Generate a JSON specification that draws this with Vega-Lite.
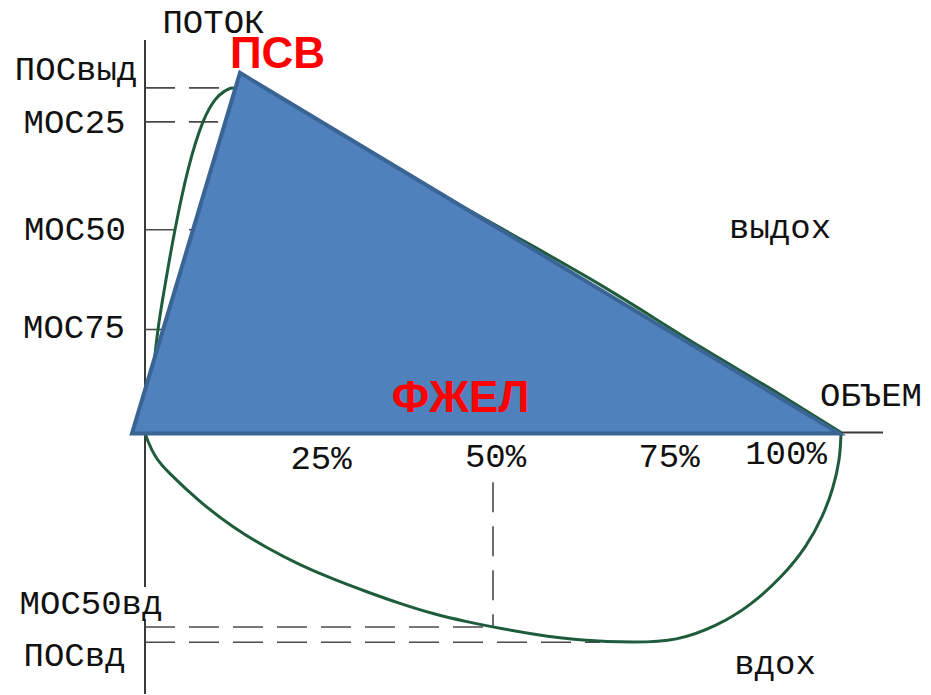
{
  "$schema": "https://vega.github.io/schema/vega-lite/v6.json",
  "width": 931,
  "height": 695,
  "padding": 0,
  "autosize": {"type": "fit", "contains": "padding"},
  "background": "white",
  "config": {"view": {"stroke": null}},
  "datasets": {
    "axes": [
      {"x": 0, "x2": 0, "y": 11.39, "y2": -4.49},
      {"x": 0, "x2": 0, "y": -5.42, "y2": -7.594},
      {"x": 0, "x2": 106.03, "y": 0, "y2": 0}
    ],
    "guides": [
      {"x": 0, "x2": 12.5, "y": 10.0, "y2": 10.0},
      {"x": 0, "x2": 10.5, "y": 9.014, "y2": 9.014},
      {"x": 0, "x2": 7.9, "y": 5.884, "y2": 5.884},
      {"x": 0, "x2": 4.31, "y": 2.986, "y2": 2.986},
      {"x": 0, "x2": 50, "y": -5.65, "y2": -5.65},
      {"x": 0, "x2": 65.4, "y": -6.09, "y2": -6.09},
      {"x": 50, "x2": 50, "y": -1.449, "y2": -5.65}
    ],
    "expir": [
      {"i": 0, "v": 0, "f": 0},
      {"i": 1, "v": 0.43, "f": 0.667},
      {"i": 2, "v": 1.01, "f": 1.536},
      {"i": 3, "v": 1.87, "f": 2.986},
      {"i": 4, "v": 3.02, "f": 4.435},
      {"i": 5, "v": 4.31, "f": 5.884},
      {"i": 6, "v": 6.18, "f": 7.623},
      {"i": 7, "v": 8.33, "f": 9.014},
      {"i": 8, "v": 10.06, "f": 9.652},
      {"i": 9, "v": 11.49, "f": 9.913},
      {"i": 10, "v": 12.5, "f": 10.0},
      {"i": 11, "v": 14.37, "f": 9.884},
      {"i": 12, "v": 22.27, "f": 9.13},
      {"i": 13, "v": 36.64, "f": 7.565},
      {"i": 14, "v": 51.01, "f": 5.942},
      {"i": 15, "v": 65.37, "f": 4.29},
      {"i": 16, "v": 79.74, "f": 2.493},
      {"i": 17, "v": 91.24, "f": 1.101},
      {"i": 18, "v": 100, "f": 0}
    ],
    "inspir": [
      {"i": 0, "v": 0, "f": 0},
      {"i": 1, "v": 0.29, "f": -0.203},
      {"i": 2, "v": 1.44, "f": -0.725},
      {"i": 3, "v": 3.16, "f": -1.13},
      {"i": 4, "v": 7.9, "f": -2.03},
      {"i": 5, "v": 12.64, "f": -2.76},
      {"i": 6, "v": 17.53, "f": -3.36},
      {"i": 7, "v": 22.27, "f": -3.85},
      {"i": 8, "v": 27.01, "f": -4.26},
      {"i": 9, "v": 31.9, "f": -4.63},
      {"i": 10, "v": 36.64, "f": -4.97},
      {"i": 11, "v": 41.38, "f": -5.27},
      {"i": 12, "v": 46.26, "f": -5.5},
      {"i": 13, "v": 50, "f": -5.65},
      {"i": 14, "v": 55.75, "f": -5.86},
      {"i": 15, "v": 62.93, "f": -6.05},
      {"i": 16, "v": 70.11, "f": -6.1},
      {"i": 17, "v": 76.44, "f": -6.06},
      {"i": 18, "v": 82.18, "f": -5.62},
      {"i": 19, "v": 86.93, "f": -5.04},
      {"i": 20, "v": 91.67, "f": -4.17},
      {"i": 21, "v": 95.11, "f": -3.3},
      {"i": 22, "v": 97.41, "f": -2.43},
      {"i": 23, "v": 98.85, "f": -1.65},
      {"i": 24, "v": 99.86, "f": -0.78},
      {"i": 25, "v": 100, "f": 0}
    ],
    "triangle": [
      {"i": 0, "v": -1.868, "f": -0.029},
      {"i": 1, "v": 13.65, "f": 10.435},
      {"i": 2, "v": 99.71, "f": -0.029}
    ],
    "labels": [
      {"label": "ПОТОК", "x": 9.84, "y": 11.594},
      {"label": "ПОСвыд", "x": -9.91, "y": 10.232},
      {"label": "МОС25", "x": -10.13, "y": 8.696},
      {"label": "МОС50", "x": -10.06, "y": 5.594},
      {"label": "МОС75", "x": -10.2, "y": 2.754},
      {"label": "выдох", "x": 91.24, "y": 5.652},
      {"label": "ОБЪЕМ", "x": 104.31, "y": 0.754},
      {"label": "25%", "x": 25.29, "y": -1.072},
      {"label": "50%", "x": 50.36, "y": -1.014},
      {"label": "75%", "x": 75.29, "y": -1.014},
      {"label": "100%", "x": 92.1, "y": -0.928},
      {"label": "МОС50вд", "x": -7.76, "y": -5.275},
      {"label": "ПОСвд", "x": -10.13, "y": -6.783},
      {"label": "вдох", "x": 90.52, "y": -7.014}
    ],
    "marks": [
      {"label": "ПСВ", "x": 19.04, "y": 10.58},
      {"label": "ФЖЕЛ", "x": 45.33, "y": 0.58}
    ]
  },
  "layer": [
    {
      "data": {"name": "axes"},
      "mark": {"type": "rule", "color": "#3a3a3a", "strokeWidth": 2},
      "encoding": {
        "x": {"field": "x", "type": "quantitative", "scale": {"domain": [-20.833, 112.931], "nice": false, "zero": false}, "axis": null},
        "x2": {"field": "x2"},
        "y": {"field": "y", "type": "quantitative", "scale": {"domain": [-7.594, 12.551], "nice": false, "zero": false}, "axis": null},
        "y2": {"field": "y2"}
      }
    },
    {
      "data": {"name": "guides"},
      "mark": {"type": "rule", "color": "#4a4a4a", "strokeWidth": 1.6, "strokeDash": [30, 14]},
      "encoding": {
        "x": {"field": "x", "type": "quantitative"},
        "x2": {"field": "x2"},
        "y": {"field": "y", "type": "quantitative"},
        "y2": {"field": "y2"}
      }
    },
    {
      "data": {"name": "expir"},
      "mark": {"type": "line", "color": "#1f5c3c", "strokeWidth": 3, "interpolate": "monotone"},
      "encoding": {
        "x": {"field": "v", "type": "quantitative"},
        "y": {"field": "f", "type": "quantitative"},
        "order": {"field": "i", "type": "quantitative"}
      }
    },
    {
      "data": {"name": "inspir"},
      "mark": {"type": "line", "color": "#1f5c3c", "strokeWidth": 3, "interpolate": "basis"},
      "encoding": {
        "x": {"field": "v", "type": "quantitative"},
        "y": {"field": "f", "type": "quantitative"},
        "order": {"field": "i", "type": "quantitative"}
      }
    },
    {
      "data": {"name": "triangle"},
      "mark": {"type": "line", "interpolate": "linear-closed", "fill": "#4f81bd", "stroke": "#3a6494", "strokeWidth": 4, "strokeJoin": "miter"},
      "encoding": {
        "x": {"field": "v", "type": "quantitative"},
        "y": {"field": "f", "type": "quantitative"},
        "order": {"field": "i", "type": "quantitative"}
      }
    },
    {
      "data": {"name": "labels"},
      "mark": {"type": "text", "font": "Liberation Mono", "fontSize": 34, "color": "#111111", "align": "center", "baseline": "alphabetic"},
      "encoding": {
        "x": {"field": "x", "type": "quantitative"},
        "y": {"field": "y", "type": "quantitative"},
        "text": {"field": "label"}
      }
    },
    {
      "data": {"name": "marks"},
      "mark": {"type": "text", "font": "Liberation Sans", "fontWeight": "bold", "fontSize": 44, "color": "#ff0000", "align": "center", "baseline": "alphabetic"},
      "encoding": {
        "x": {"field": "x", "type": "quantitative"},
        "y": {"field": "y", "type": "quantitative"},
        "text": {"field": "label"}
      }
    }
  ]
}
